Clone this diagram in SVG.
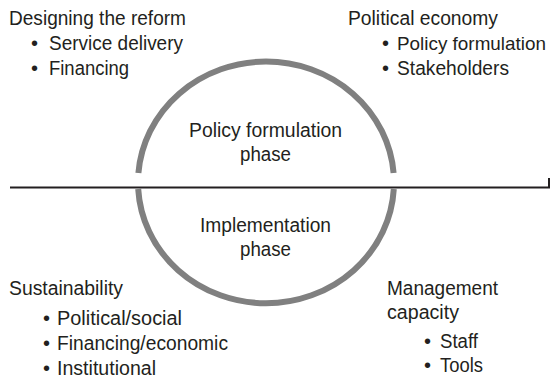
<svg xmlns="http://www.w3.org/2000/svg" width="552" height="380" viewBox="0 0 552 380">
<style>
text{font-family:"Liberation Sans",Arial,sans-serif;font-size:20px;fill:#231f20}
.arc{fill:none;stroke:#808080;stroke-width:6}
.ln{fill:none;stroke:#231f20;stroke-width:2}
</style>
<rect width="552" height="380" fill="#fff"/>
<g id="circle">
<path class="arc" d="M138.4,173 A128,121 0 0 1 393.6,173"/>
<path class="arc" d="M138.2,189 A128,121 0 0 0 393.8,189"/>
</g>
<g id="connectors">
<path class="ln" d="M10,187.5 H549 V178"/>
</g>
<g id="policy-phase">
<text x="189" y="137" textLength="153" lengthAdjust="spacingAndGlyphs">Policy formulation</text>
<text x="240" y="161" textLength="51" lengthAdjust="spacingAndGlyphs">phase</text>
</g>
<g id="implementation-phase">
<text x="200" y="232" textLength="131" lengthAdjust="spacingAndGlyphs">Implementation</text>
<text x="240" y="256" textLength="51" lengthAdjust="spacingAndGlyphs">phase</text>
</g>
<g id="designing">
<text x="9" y="25" textLength="177" lengthAdjust="spacingAndGlyphs">Designing the reform</text>
<text x="31" y="50">•</text><text x="49" y="50" textLength="134" lengthAdjust="spacingAndGlyphs">Service delivery</text>
<text x="31" y="75">•</text><text x="49" y="75" textLength="80" lengthAdjust="spacingAndGlyphs">Financing</text>
</g>
<g id="political-economy">
<text x="348" y="25" textLength="150" lengthAdjust="spacingAndGlyphs">Political economy</text>
<text x="382" y="50">•</text><text x="397" y="50" style="font-size:19px" textLength="149" lengthAdjust="spacingAndGlyphs">Policy formulation</text>
<text x="382" y="75">•</text><text x="397" y="75" textLength="112" lengthAdjust="spacingAndGlyphs">Stakeholders</text>
</g>
<g id="sustainability">
<text x="9" y="295" textLength="114" lengthAdjust="spacingAndGlyphs">Sustainability</text>
<text x="43" y="325">•</text><text x="57" y="325" textLength="125" lengthAdjust="spacingAndGlyphs">Political/social</text>
<text x="43" y="350">•</text><text x="57" y="350" textLength="171" lengthAdjust="spacingAndGlyphs">Financing/economic</text>
<text x="43" y="375">•</text><text x="57" y="375" textLength="99" lengthAdjust="spacingAndGlyphs">Institutional</text>
</g>
<g id="management">
<text x="387" y="295" textLength="111" lengthAdjust="spacingAndGlyphs">Management</text>
<text x="387" y="319" textLength="72" lengthAdjust="spacingAndGlyphs">capacity</text>
<text x="424" y="348">•</text><text x="440" y="348" textLength="38" lengthAdjust="spacingAndGlyphs">Staff</text>
<text x="424" y="372">•</text><text x="440" y="372" textLength="43" lengthAdjust="spacingAndGlyphs">Tools</text>
</g>
</svg>
